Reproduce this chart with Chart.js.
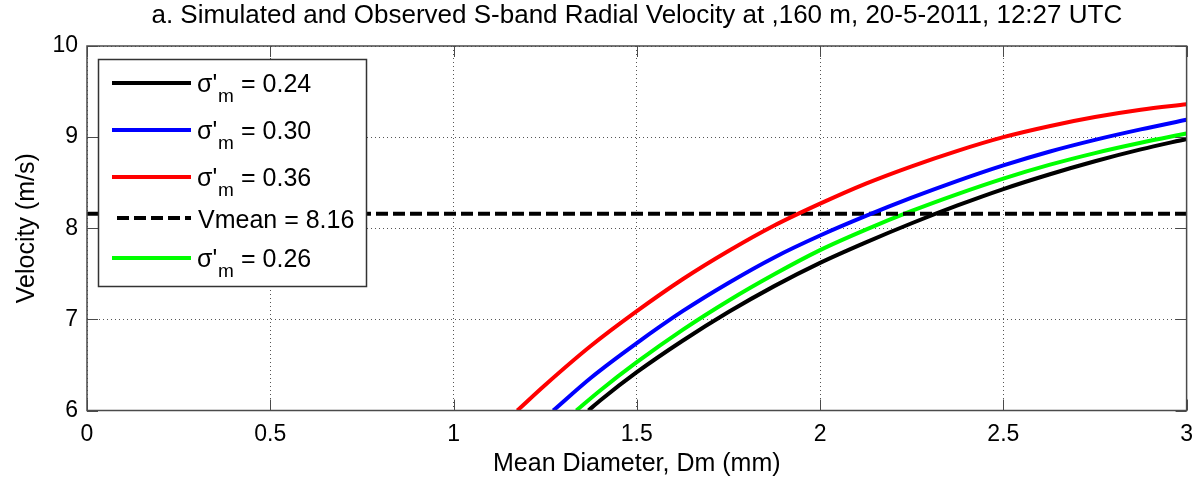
<!DOCTYPE html>
<html>
<head>
<meta charset="utf-8">
<script src="https://cdn.jsdelivr.net/npm/chart.js@4/dist/chart.umd.min.js"></script>
<style>
html,body{margin:0;padding:0;background:#fff;}
#wrap{width:1203px;height:479px;position:relative;}
</style>
</head>
<body>
<div id="wrap"><canvas id="c" width="1203" height="479"></canvas></div>
<script>
// ---- data ----
const titleText = "a. Simulated and Observed S-band Radial Velocity at ,160 m, 20-5-2011, 12:27 UTC";
const xTitle = "Mean Diameter, Dm (mm)";
const yTitle = "Velocity (m/s)";
const xTicks = [0, 0.5, 1, 1.5, 2, 2.5, 3];
const yTicks = [6, 7, 8, 9, 10];

const sigmaLabels = ["0.24", "0.30", "0.36", "0.26"];
const vmean = 8.16;

const dm024 = [1.368, 1.4, 1.5, 1.625, 1.75, 1.875, 2, 2.125, 2.25, 2.375, 2.5, 2.625, 2.75, 2.875, 3];
const v024  = [6.00, 6.11, 6.42, 6.765, 7.08, 7.365, 7.62, 7.845, 8.055, 8.25, 8.43, 8.59, 8.735, 8.865, 8.98];

const dm030 = [1.272, 1.375, 1.5, 1.625, 1.75, 1.875, 2, 2.125, 2.25, 2.375, 2.5, 2.625, 2.75, 2.875, 3];
const v030  = [6.00, 6.36, 6.74, 7.09, 7.40, 7.68, 7.92, 8.135, 8.335, 8.52, 8.69, 8.84, 8.97, 9.085, 9.19];

const dm036 = [1.174, 1.25, 1.375, 1.5, 1.625, 1.75, 1.875, 2, 2.125, 2.25, 2.375, 2.5, 2.625, 2.75, 2.875, 3];
const v036  = [6.00, 6.28, 6.71, 7.09, 7.44, 7.75, 8.03, 8.27, 8.49, 8.68, 8.85, 9.00, 9.12, 9.22, 9.30, 9.36];

const dmVmean = [0, 3];

const dm026 = [1.335, 1.4, 1.5, 1.625, 1.75, 1.875, 2, 2.125, 2.25, 2.375, 2.5, 2.625, 2.75, 2.875, 3];
const v026  = [6.00, 6.22, 6.53, 6.885, 7.205, 7.495, 7.76, 7.985, 8.19, 8.375, 8.545, 8.695, 8.825, 8.938, 9.04];

const pts = (xs, ys) => xs.map((x, i) => ({x: x, y: ys[i]}));

const FONT = "'Liberation Sans', Arial, Helvetica, sans-serif";

// legend + MATLAB-style box and inward ticks
const matlabDecor = {
  id: 'matlabDecor',
  afterDatasetsDraw(chart) {
    const ctx = chart.ctx;
    const a = chart.chartArea;
    const xs = chart.scales.x, ys = chart.scales.y;
    ctx.save();
    // box
    ctx.strokeStyle = '#4a4a4a';
    ctx.lineWidth = 1.5;
    ctx.strokeRect(a.left, a.top, a.right - a.left, a.bottom - a.top);
    // inward ticks
    const tl = 11;
    ctx.beginPath();
    xTicks.forEach(v => {
      const px = Math.round(xs.getPixelForValue(v)) + 0.5;
      ctx.moveTo(px, a.bottom); ctx.lineTo(px, a.bottom - tl);
      ctx.moveTo(px, a.top); ctx.lineTo(px, a.top + tl);
    });
    yTicks.forEach(v => {
      const py = Math.round(ys.getPixelForValue(v)) + 0.5;
      ctx.moveTo(a.left, py); ctx.lineTo(a.left + tl, py);
      ctx.moveTo(a.right, py); ctx.lineTo(a.right - tl, py);
    });
    ctx.lineWidth = 1;
    ctx.stroke();

    // legend
    const L = 98, T = 59, R = 366, B = 286;
    ctx.fillStyle = '#fff';
    ctx.fillRect(L, T, R - L, B - T);
    ctx.strokeStyle = '#333';
    ctx.lineWidth = 1.5;
    ctx.strokeRect(L + 0.5, T + 0.5, R - L, B - T);

    const rows = [
      {ds: 0, y: 83},
      {ds: 1, y: 130},
      {ds: 2, y: 177},
      {ds: 3, y: 218},
      {ds: 4, y: 258}
    ];
    rows.forEach(r => {
      const d = chart.data.datasets[r.ds];
      ctx.beginPath();
      ctx.strokeStyle = d.borderColor;
      ctx.lineWidth = 4;
      ctx.setLineDash(d.borderDash || []);
      const x0 = d.borderDash ? 117 : 112;
      ctx.moveTo(x0, r.y); ctx.lineTo(191, r.y);
      ctx.stroke();
      ctx.setLineDash([]);
      ctx.fillStyle = '#000';
      ctx.textBaseline = 'alphabetic';
      ctx.textAlign = 'left';
      const base = r.y + 9;
      if (d.isVmean) {
        ctx.font = '25px ' + FONT;
        ctx.fillText(d.label, 198, base + 1);
      } else {
        ctx.font = '25px ' + FONT;
        ctx.fillText("\u03C3'", 197, base);
        ctx.font = '19px ' + FONT;
        ctx.fillText('m', 218, base + 10);
        ctx.font = '25px ' + FONT;
        ctx.fillText('= ' + d.sigma, 241, base);
      }
    });
    ctx.restore();
  }
};

const gridCommon = {
  color: '#555555',
  lineWidth: 1,
  drawTicks: false,
  borderDash: [1, 3],
  tickBorderDash: [1, 3],
  z: 0
};
const borderCommon = {display: false, dash: [1, 3]};

new Chart(document.getElementById('c'), {
  type: 'scatter',
  data: {
    datasets: [
      {label: "\u03C3'm = " + sigmaLabels[0], sigma: sigmaLabels[0], data: pts(dm024, v024), borderColor: '#000000', backgroundColor: '#000000'},
      {label: "\u03C3'm = " + sigmaLabels[1], sigma: sigmaLabels[1], data: pts(dm030, v030), borderColor: '#0000ff', backgroundColor: '#0000ff'},
      {label: "\u03C3'm = " + sigmaLabels[2], sigma: sigmaLabels[2], data: pts(dm036, v036), borderColor: '#ff0000', backgroundColor: '#ff0000'},
      {label: "Vmean = " + vmean.toFixed(2), isVmean: true, data: pts(dmVmean, dmVmean.map(() => vmean)), borderColor: '#000000', backgroundColor: '#000000', borderDash: [12, 5], cubicInterpolationMode: 'default'},
      {label: "\u03C3'm = " + sigmaLabels[3], sigma: sigmaLabels[3], data: pts(dm026, v026), borderColor: '#00ff00', backgroundColor: '#00ff00'}
    ].map(d => Object.assign({showLine: true, pointRadius: 0, borderWidth: 4, cubicInterpolationMode: 'monotone', fill: false}, d))
  },
  options: {
    responsive: false,
    animation: false,
    devicePixelRatio: 1,
    layout: {padding: {left: 0, right: 11, top: 0, bottom: 0}},
    plugins: {
      legend: {display: false},
      tooltip: {enabled: false},
      title: {
        display: true,
        text: titleText,
        fullSize: false,
        color: '#000',
        font: {family: FONT, size: 26, weight: 'normal'},
        padding: {top: 0, bottom: 14.8}
      }
    },
    scales: {
      x: {
        type: 'linear',
        min: 0, max: 3,
        afterBuildTicks(scale) { scale.ticks = xTicks.map(v => ({value: v})); },
        afterFit(scale) { scale.height = 68.5; },
        ticks: {color: '#000', font: {family: FONT, size: 23}, padding: 10, maxRotation: 0,
          callback: v => String(v)},
        grid: Object.assign({}, gridCommon),
        border: Object.assign({}, borderCommon),
        title: {display: true, text: xTitle, color: '#000', font: {family: FONT, size: 25}, padding: {top: 0, bottom: 0}}
      },
      y: {
        type: 'linear',
        min: 6, max: 10,
        afterBuildTicks(scale) { scale.ticks = yTicks.map(v => ({value: v})); },
        afterFit(scale) { scale.width = 87; },
        ticks: {color: '#000', font: {family: FONT, size: 23}, padding: 9,
          callback: v => String(v)},
        grid: Object.assign({}, gridCommon),
        border: Object.assign({}, borderCommon),
        title: {display: true, text: yTitle, color: '#000', font: {family: FONT, size: 25}, padding: {top: 12, bottom: 0}}
      }
    }
  },
  plugins: [matlabDecor]
});
</script>
</body>
</html>
